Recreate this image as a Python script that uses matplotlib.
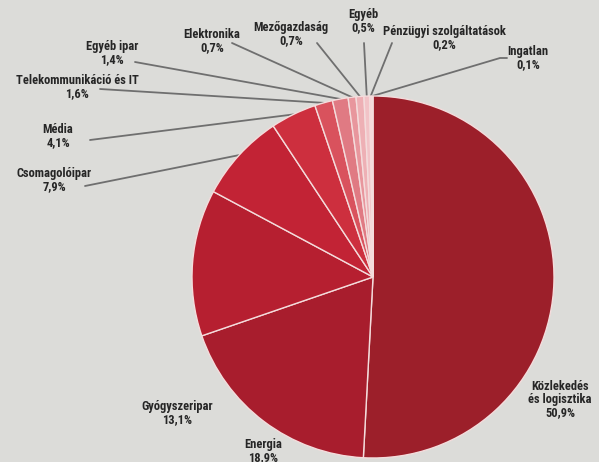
import matplotlib
matplotlib.use("Agg")
import matplotlib.pyplot as plt
import numpy as np

# Share of each sector (%), clockwise from 12 o'clock
sectors = ["Közlekedés\nés logisztika", "Energia", "Gyógyszeripar", "Csomagolóipar",
           "Média", "Telekommunikáció és IT", "Egyéb ipar", "Elektronika",
           "Mezőgazdaság", "Egyéb", "Pénzügyi szolgáltatások", "Ingatlan"]
shares = [50.9, 18.9, 13.1, 7.9, 4.1, 1.6, 1.4, 0.7, 0.7, 0.5, 0.2, 0.1]
pct_labels = ["50,9%", "18,9%", "13,1%", "7,9%", "4,1%", "1,6%", "1,4%",
              "0,7%", "0,7%", "0,5%", "0,2%", "0,1%"]
colors = ["#9c1f2a", "#a81d2d", "#b61f30", "#c22335", "#cd2f3e", "#d9525d",
          "#e07a83", "#e8969d", "#eeb0b5", "#f2c3c7", "#f6d4d7", "#f9e3e5"]

W, H = 599, 462
BG = "#dcdcd9"

fig = plt.figure(figsize=(W / 100, H / 100), dpi=100, facecolor=BG)
ax = fig.add_axes([0, 0, 1, 1], facecolor=BG)
ax.set_xlim(0, W)
ax.set_ylim(0, H)
ax.set_aspect("equal")
ax.axis("off")


def P(x, y):
    """Convert a top-left pixel position to axes data coordinates."""
    return x, H - y


cx, cy = P(373, 277)
R = 181

wedges, _ = ax.pie(shares, colors=colors, startangle=90, counterclock=False,
                   center=(cx, cy), radius=R,
                   wedgeprops=dict(edgecolor="#f4dcdc", linewidth=1.0))
ax.set_xlim(0, W)
ax.set_ylim(0, H)

FONT = ["Roboto Condensed", "Liberation Sans", "DejaVu Sans"]
TXT = "#262626"

# label centre (pixel) and leader start point (pixel) for each sector; None = no leader
layout = {
    0: ((560, 400), None),
    1: ((263, 451), None),
    2: ((177, 413), None),
    3: ((54, 180), [(85, 186)]),
    4: ((58, 136), [(90, 140)]),
    5: ((77, 87), [(100, 89)]),
    6: ((112, 53), [(135, 62)]),
    7: ((212, 41), [(232, 43)]),
    8: ((291, 34), [(317, 43)]),
    9: ((363, 21), [(364, 43)]),
    10: ((444, 38), [(392, 43)]),
    11: ((528, 58), [(507, 58), (500, 58)]),
}

for i, w in enumerate(wedges):
    (lx, ly), lead = layout[i]
    tx, ty = P(lx, ly)
    ax.text(tx, ty, f"{sectors[i]}\n{pct_labels[i]}", ha="center", va="center",
            family=FONT, fontweight="bold", fontsize=9, color=TXT,
            linespacing=1.0)
    if lead:
        mid = np.deg2rad((w.theta1 + w.theta2) / 2)
        ex, ey = cx + R * np.cos(mid), cy + R * np.sin(mid)
        pts = [P(*p) for p in lead] + [(ex, ey)]
        xs, ys = zip(*pts)
        ax.plot(xs, ys, color="#6f6f6f", lw=1.3, solid_capstyle="round", zorder=0.5)

fig.savefig("out.png", dpi=100, facecolor=BG)
